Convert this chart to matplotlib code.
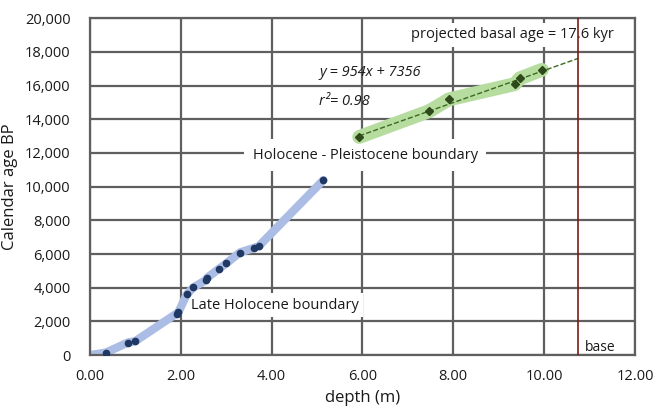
import matplotlib.pyplot as plt
from matplotlib.ticker import FuncFormatter

plt.rcParams['font.family'] = ['Open Sans', 'DejaVu Sans']

# Holocene part (depth in m, calendar age BP)
holo_depth = [0.35, 0.84, 1.00, 1.91, 1.95, 2.13, 2.28, 2.55, 2.58, 2.85, 3.00, 3.30, 3.62, 3.72, 5.14]
holo_age = [150, 750, 830, 2470, 2550, 3600, 4020, 4450, 4590, 5140, 5440, 6090, 6370, 6470, 10390]

# Pleistocene part
pleis_depth = [5.93, 7.47, 7.90, 9.35, 9.46, 9.95]
pleis_age = [12950, 14480, 15175, 16080, 16420, 16930]

slope = 954
intercept = 7356
base_depth = 10.75

fig = plt.figure(figsize=(6.56, 4.12), dpi=100)
ax = fig.add_axes([0.137, 0.138, 0.831, 0.818])

ax.set_xlim(0, 12)
ax.set_ylim(0, 20000)
ax.set_xticks([0, 2, 4, 6, 8, 10, 12])
ax.set_yticks(range(0, 20001, 2000))
ax.xaxis.set_major_formatter(FuncFormatter(lambda v, p: f'{v:.2f}'))
ax.yaxis.set_major_formatter(FuncFormatter(lambda v, p: f'{int(v):,}'))
ax.tick_params(length=0, labelsize=10.5, colors='#1a1a1a')
ax.tick_params(axis='y', pad=14)
ax.tick_params(axis='x', pad=10)
ax.grid(True, color='#5f5f5f', lw=1.6, zorder=0)
ax.set_axisbelow(True)
for s in ax.spines.values():
    s.set_color('#5f5f5f')
    s.set_linewidth(1.6)

# thick smoothed bands
ax.plot([0.0] + holo_depth, [0] + holo_age, color='#abbde4', lw=6,
        solid_capstyle='round', solid_joinstyle='round', zorder=2)
ax.plot(pleis_depth, pleis_age, color='#b7dca0', lw=10,
        solid_capstyle='round', solid_joinstyle='round', zorder=2)

ax.plot(holo_depth, holo_age, 'o', color='#1f3864', ms=4.5, zorder=4)

# trend line to base
tx = [pleis_depth[0], base_depth]
ty = [slope * x + intercept for x in tx]
ax.plot(tx, ty, '--', color='#3a6b1f', lw=1, zorder=3)
ax.plot(pleis_depth, pleis_age, 'D', color='#2e4a1a', ms=4, zorder=4)

ax.axvline(base_depth, color='#7b1c12', lw=1.2, zorder=3)

box = dict(facecolor='white', edgecolor='none', pad=3)
ax.text(6.06, 11870, 'Holocene - Pleistocene boundary', ha='center', va='center',
        fontsize=10.5, color='#1a1a1a', bbox=dict(facecolor='white', edgecolor='none', pad=6), zorder=1)
ax.text(4.07, 2970, 'Late Holocene boundary', ha='center', va='center',
        fontsize=10.5, color='#1a1a1a', bbox=box, zorder=1)
ax.text(9.3, 19000, 'projected basal age = 17.6 kyr', ha='center', va='center',
        fontsize=10.5, color='#1a1a1a', bbox=box, zorder=1)
ax.text(5.05, 16800, 'y = 954x + 7356', ha='left', va='center', style='italic',
        fontsize=10.5, color='#1a1a1a', zorder=5)
ax.text(5.05, 15050, 'r\u00b2= 0.98', ha='left', va='center', style='italic',
        fontsize=10.5, color='#1a1a1a', zorder=5)
ax.text(10.9, 450, 'base', ha='left', va='center', fontsize=10, color='#1a1a1a', zorder=5)

ax.set_xlabel('depth (m)', fontsize=12, color='#1a1a1a', labelpad=4)
ax.set_ylabel('Calendar age BP', fontsize=12, color='#1a1a1a', labelpad=5)

fig.savefig('out.png', dpi=100)
